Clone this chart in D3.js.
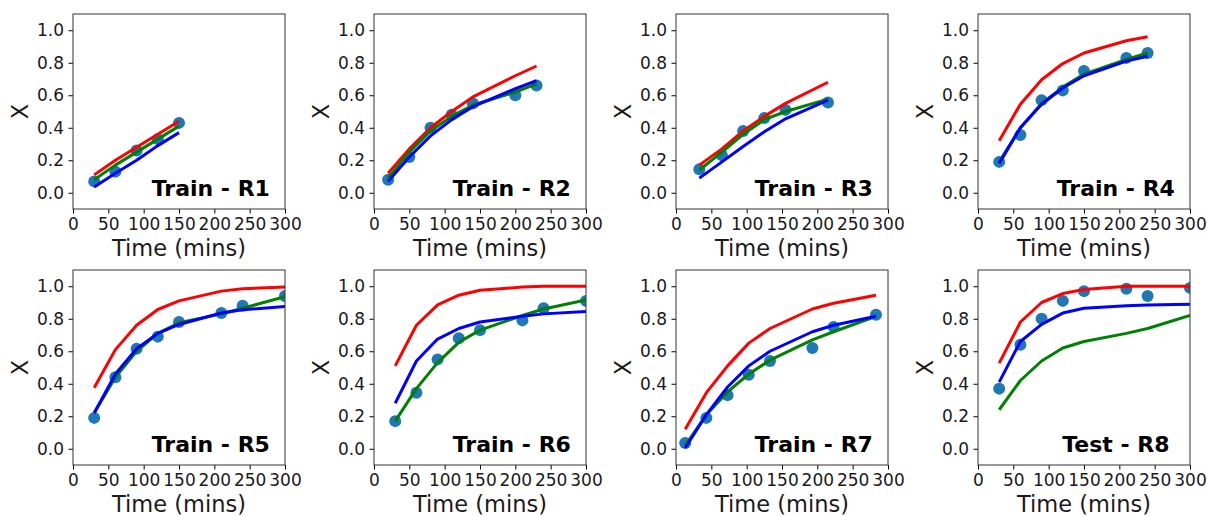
<!DOCTYPE html>
<html>
<head>
<meta charset="utf-8">
<script src="https://cdn.jsdelivr.net/npm/d3@7"></script>
<style>
  body { margin: 0; background: #fff; }
  svg { font-family: "DejaVu Sans", sans-serif; }
  .tick text { fill: #1a1a1a; }
</style>
</head>
<body>
<svg id="chart" width="1207" height="516"></svg>
<script>
// panel labels
var panelTitles = ["Train - R1", "Train - R2", "Train - R3", "Train - R4",
                   "Train - R5", "Train - R6", "Train - R7", "Test - R8"];

// sampling times (mins) for each run
var times = [
  [30, 60, 90, 120, 150],
  [20, 50, 80, 110, 140, 200, 230],
  [33, 65, 95, 125, 155, 215],
  [30, 60, 90, 120, 150, 210, 240],
  [30, 60, 90, 120, 150, 210, 240, 300],
  [30, 60, 90, 120, 150, 210, 240, 300],
  [13, 43, 73, 103, 133, 193, 223, 283],
  [30, 60, 90, 120, 150, 210, 240, 300]
];

// measured conversion (dots)
var measured = [
  [0.07, 0.13, 0.26, 0.33, 0.43],
  [0.08, 0.22, 0.40, 0.48, 0.55, 0.60, 0.66],
  [0.145, 0.23, 0.38, 0.46, 0.51, 0.555],
  [0.19, 0.355, 0.57, 0.63, 0.75, 0.83, 0.86],
  [0.19, 0.44, 0.615, 0.69, 0.78, 0.835, 0.88, 0.94],
  [0.17, 0.345, 0.55, 0.68, 0.73, 0.79, 0.865, 0.91],
  [0.035, 0.19, 0.33, 0.455, 0.54, 0.62, 0.75, 0.825],
  [0.37, 0.64, 0.80, 0.91, 0.97, 0.985, 0.94, 0.99]
];

// model predictions
var redModel = [
  [0.11, 0.20, 0.28, 0.36, 0.44],
  [0.12, 0.27, 0.40, 0.50, 0.59, 0.72, 0.78],
  [0.17, 0.27, 0.38, 0.47, 0.55, 0.68],
  [0.32, 0.545, 0.695, 0.795, 0.86, 0.935, 0.96],
  [0.375, 0.61, 0.76, 0.857, 0.91, 0.97, 0.985, 0.995],
  [0.51, 0.76, 0.885, 0.945, 0.975, 0.995, 1.0, 1.0],
  [0.12, 0.345, 0.51, 0.65, 0.74, 0.86, 0.895, 0.945],
  [0.527, 0.78, 0.90, 0.955, 0.98, 1.0, 1.0, 1.0]
];

var greenModel = [
  [0.08, 0.17, 0.25, 0.33, 0.41],
  [0.09, 0.25, 0.38, 0.47, 0.54, 0.62, 0.67],
  [0.14, 0.25, 0.36, 0.45, 0.50, 0.576],
  [0.19, 0.40, 0.55, 0.65, 0.73, 0.82, 0.86],
  [0.22, 0.44, 0.60, 0.71, 0.775, 0.83, 0.865, 0.935],
  [0.17, 0.37, 0.53, 0.655, 0.73, 0.82, 0.86, 0.915],
  [0.02, 0.21, 0.35, 0.46, 0.545, 0.67, 0.72, 0.815],
  [0.24, 0.42, 0.54, 0.62, 0.66, 0.71, 0.74, 0.82]
];

var blueModel = [
  [0.035, 0.12, 0.20, 0.29, 0.37],
  [0.07, 0.22, 0.35, 0.45, 0.53, 0.64, 0.69],
  [0.09, 0.19, 0.285, 0.375, 0.455, 0.57],
  [0.18, 0.40, 0.545, 0.645, 0.72, 0.81, 0.84],
  [0.22, 0.46, 0.615, 0.71, 0.765, 0.835, 0.855, 0.875],
  [0.28, 0.54, 0.675, 0.74, 0.78, 0.815, 0.83, 0.845],
  [0.005, 0.21, 0.38, 0.51, 0.60, 0.72, 0.76, 0.815],
  [0.41, 0.66, 0.765, 0.835, 0.865, 0.88, 0.885, 0.89]
];

var xTicks = [0, 50, 100, 150, 200, 250, 300];
var yTicks = [0.0, 0.2, 0.4, 0.6, 0.8, 1.0];

var panelLefts = [73, 374, 676, 978];
var panelTops = [14, 270];
var pw = 212, ph = 195;

var svg = d3.select("#chart");

var x = d3.scaleLinear().domain([0, 300]).range([0, pw]);
var y = d3.scaleLinear().domain([-0.1, 1.1]).range([ph, 0]);

var xAxis = d3.axisBottom(x).tickValues(xTicks).tickSize(4.5).tickPadding(4.5)
    .tickFormat(d3.format("d"));
var yAxis = d3.axisLeft(y).tickValues(yTicks).tickSize(4.5).tickPadding(4.5)
    .tickFormat(d3.format(".1f"));

var line = d3.line()
    .x(function(d) { return x(d[0]); })
    .y(function(d) { return y(d[1]); });

var models = [
  {vals: redModel, color: "#ff0000"},
  {vals: greenModel, color: "#008000"},
  {vals: blueModel, color: "#0000ff"}
];

panelTitles.forEach(function(title, i) {
  var col = i % 4, row = Math.floor(i / 4);
  var g = svg.append("g")
      .attr("transform", "translate(" + panelLefts[col] + "," + panelTops[row] + ")");

  g.append("clipPath").attr("id", "clip" + i)
    .append("rect").attr("width", pw).attr("height", ph);

  var plot = g.append("g").attr("clip-path", "url(#clip" + i + ")");

  // measured points
  plot.selectAll(".dot")
    .data(times[i].map(function(t, k) { return [t, measured[i][k]]; }))
    .enter().append("circle")
      .attr("class", "dot")
      .attr("cx", function(d) { return x(d[0]); })
      .attr("cy", function(d) { return y(d[1]); })
      .attr("r", 6)
      .attr("fill", "#1f77b4");

  // model curves
  models.forEach(function(m) {
    plot.append("path")
      .datum(times[i].map(function(t, k) { return [t, m.vals[i][k]]; }))
      .attr("fill", "none")
      .attr("stroke", m.color)
      .attr("stroke-width", 3)
      .attr("stroke-linejoin", "round")
      .attr("d", line);
  });

  g.append("text")
    .attr("x", x(195))
    .attr("y", ph - 13.5)
    .attr("text-anchor", "middle")
    .attr("font-weight", "bold")
    .attr("font-size", 22)
    .text(title);

  // axes
  g.append("g")
    .attr("transform", "translate(0," + ph + ")")
    .call(xAxis)
    .call(function(a) { a.select(".domain").remove(); })
    .selectAll("text").attr("font-size", 17).attr("font-family", "DejaVu Sans");

  g.append("g")
    .call(yAxis)
    .call(function(a) { a.select(".domain").remove(); })
    .selectAll("text").attr("font-size", 17).attr("font-family", "DejaVu Sans");

  g.append("rect")
    .attr("width", pw).attr("height", ph)
    .attr("fill", "none").attr("stroke", "#333").attr("stroke-width", 1);

  g.append("text")
    .attr("x", pw / 2)
    .attr("y", ph + 47)
    .attr("text-anchor", "middle")
    .attr("font-size", 22.5)
    .attr("fill", "#1a1a1a")
    .text("Time (mins)");

  g.append("text")
    .attr("transform", "translate(-45," + (ph / 2) + ") rotate(-90)")
    .attr("text-anchor", "middle")
    .attr("font-size", 22.5)
    .attr("fill", "#1a1a1a")
    .text("X");
});
</script>
</body>
</html>
